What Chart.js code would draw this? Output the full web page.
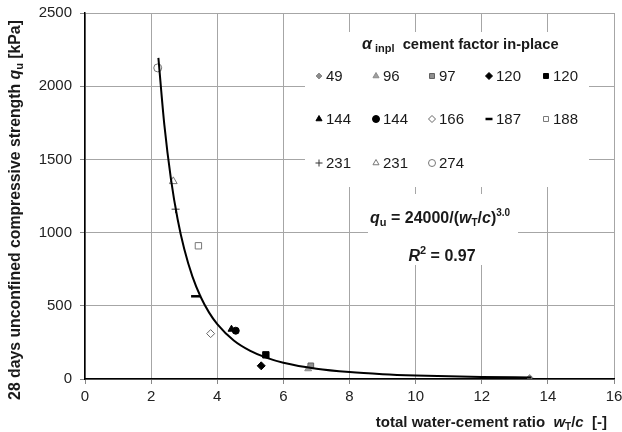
<!DOCTYPE html>
<html>
<head>
<meta charset="utf-8">
<script src="https://cdn.jsdelivr.net/npm/chart.js@4.4.0/dist/chart.umd.min.js"></script>
<style>
  html, body { margin: 0; padding: 0; background: #fff; }
  #wrap { width: 622px; height: 432px; }
</style>
</head>
<body>
<div id="wrap"><canvas id="c" width="622" height="432"></canvas></div>
<script>
// ---- data ----
const seriesLabels = ['49', '96', '97', '120', '120', '144', '144', '166', '187', '188', '231', '231', '274'];
const wcRatio      = [13.45, 6.75, 6.83, 5.33, 5.47, 4.43, 4.56, 3.80, 3.36, 3.43, 2.74, 2.67, 2.20];
const strengthQu   = [10, 70, 90, 90, 165, 340, 330, 310, 565, 910, 1160, 1350, 2125];

// trend line q_u = 24000/(wT/c)^3.0
const trendX = [2.22, 2.4, 2.6, 2.8, 3.0, 3.25, 3.5, 3.75, 4.0, 4.5, 5.0, 5.5, 6.0, 7.0, 8.0, 9.0, 10.0, 11.0, 12.0, 13.5];
const trendY = [2194, 1736, 1366, 1093, 889, 699, 560, 455, 375, 263, 192, 144, 111, 70, 47, 33, 24, 18, 14, 10];

const xTicks = [0, 2, 4, 6, 8, 10, 12, 14, 16];
const yTicks = [0, 500, 1000, 1500, 2000, 2500];

// ---- marker styles (one per series) ----
const markerStyles = [
  { pointStyle: 'rectRot',  radius: 3,   bg: '#8c8c8c', border: '#8c8c8c', bw: 1 },
  { pointStyle: 'triangle', radius: 4,   bg: '#a0a0a0', border: '#8c8c8c', bw: 1 },
  { pointStyle: 'rect',     radius: 4,   bg: '#909090', border: '#606060', bw: 1 },
  { pointStyle: 'rectRot',  radius: 4,   bg: '#000',    border: '#000',    bw: 1 },
  { pointStyle: 'rect',     radius: 4.5, bg: '#000',    border: '#000',    bw: 1 },
  { pointStyle: 'triangle', radius: 4,   bg: '#000',    border: '#000',    bw: 1 },
  { pointStyle: 'circle',   radius: 3.5, bg: '#000',    border: '#000',    bw: 1 },
  { pointStyle: 'rectRot',  radius: 4,   bg: '#fff',    border: '#666',    bw: 1 },
  { pointStyle: 'line',     radius: 5,   bg: '#000',    border: '#000',    bw: 2.5 },
  { pointStyle: 'rect',     radius: 4.5, bg: '#fff',    border: '#777',    bw: 1 },
  { pointStyle: 'cross',    radius: 4,   bg: '#333',    border: '#333',    bw: 1 },
  { pointStyle: 'triangle', radius: 4.5, bg: '#fff',    border: '#777',    bw: 1 },
  { pointStyle: 'circle',   radius: 4,   bg: '#fff',    border: '#777',    bw: 1 }
];

const FONT = '"Liberation Sans", Arial, Helvetica, sans-serif';

const datasets = [{
  type: 'line',
  label: 'trend',
  data: trendX.map((x, i) => ({ x: x, y: trendY[i] })),
  borderColor: '#000',
  borderWidth: 2,
  pointRadius: 0,
  fill: false,
  cubicInterpolationMode: 'monotone',
  order: 0
}];
seriesLabels.forEach((lab, i) => {
  const s = markerStyles[i];
  datasets.push({
    type: 'scatter',
    label: lab,
    data: [{ x: wcRatio[i], y: strengthQu[i] }],
    pointStyle: s.pointStyle,
    pointRadius: s.radius,
    pointBackgroundColor: s.bg,
    pointBorderColor: s.border,
    pointBorderWidth: s.bw,
    order: 1
  });
});

// draw a run of text segments with mixed fonts
function drawRuns(ctx, runs, x, y, align) {
  let total = 0;
  runs.forEach(r => { ctx.font = r.font; r.w = ctx.measureText(r.t).width; total += r.w; });
  let cx = align === 'center' ? x - total / 2 : (align === 'right' ? x - total : x);
  ctx.textAlign = 'left';
  ctx.textBaseline = 'alphabetic';
  runs.forEach(r => {
    ctx.font = r.font;
    ctx.fillText(r.t, cx, y + (r.dy || 0));
    cx += r.w;
  });
}

const overlay = {
  id: 'overlay',
  beforeDatasetsDraw(chart) {
    const ctx = chart.ctx;
    ctx.save();
    ctx.fillStyle = '#fff';
    ctx.fillRect(305, 32, 284, 155);   // legend box
    ctx.fillRect(368, 194, 150, 71);   // equation box
    ctx.restore();
  },
  afterDraw(chart) {
    const ctx = chart.ctx;
    ctx.save();
    ctx.fillStyle = '#1a1a1a';

    // legend title
    drawRuns(ctx, [
      { t: 'α', font: 'italic bold 16px ' + FONT },
      { t: ' inpl', font: 'bold 11px ' + FONT, dy: 3 },
      { t: '  cement factor in-place', font: 'bold 14.7px ' + FONT }
    ], 362, 49, 'left');

    // legend items
    const colX = [319, 376, 432, 489, 546];
    const rowY = [76, 119, 163];
    const H = Chart.helpers;
    seriesLabels.forEach((lab, i) => {
      const s = markerStyles[i];
      const mx = colX[i % 5], my = rowY[Math.floor(i / 5)];
      ctx.save();
      ctx.fillStyle = s.bg;
      ctx.strokeStyle = s.border;
      ctx.lineWidth = s.bw;
      H.drawPoint(ctx, { pointStyle: s.pointStyle, radius: Math.min(s.radius, 3.5), rotation: 0, borderWidth: s.bw }, mx, my);
      ctx.restore();
      ctx.fillStyle = '#1a1a1a';
      ctx.font = '15px ' + FONT;
      ctx.textAlign = 'left';
      ctx.textBaseline = 'middle';
      ctx.fillText(lab, mx + 7, my + 1);
    });

    // equation
    ctx.fillStyle = '#1a1a1a';
    drawRuns(ctx, [
      { t: 'q', font: 'italic bold 16px ' + FONT },
      { t: 'u', font: 'bold 11px ' + FONT, dy: 3 },
      { t: ' = 24000/(', font: 'bold 16px ' + FONT },
      { t: 'w', font: 'italic bold 16px ' + FONT },
      { t: 'T', font: 'bold 10px ' + FONT, dy: 3 },
      { t: '/', font: 'bold 16px ' + FONT },
      { t: 'c', font: 'italic bold 16px ' + FONT },
      { t: ')', font: 'bold 16px ' + FONT },
      { t: '3.0', font: 'bold 10px ' + FONT, dy: -7 }
    ], 370, 223, 'left');
    drawRuns(ctx, [
      { t: 'R', font: 'italic bold 16px ' + FONT },
      { t: '2', font: 'bold 11px ' + FONT, dy: -7 },
      { t: ' = 0.97', font: 'bold 16px ' + FONT }
    ], 442, 261, 'center');

    // x axis title
    drawRuns(ctx, [
      { t: 'total water-cement ratio  ', font: 'bold 15px ' + FONT },
      { t: 'w', font: 'italic bold 15px ' + FONT },
      { t: 'T', font: 'bold 10px ' + FONT, dy: 3 },
      { t: '/', font: 'bold 15px ' + FONT },
      { t: 'c', font: 'italic bold 15px ' + FONT },
      { t: '  [-]', font: 'bold 15px ' + FONT }
    ], 607, 427, 'right');

    // y axis title
    ctx.translate(20, 210);
    ctx.rotate(-Math.PI / 2);
    drawRuns(ctx, [
      { t: '28 days unconfined compressive strength ', font: 'bold 15.8px ' + FONT },
      { t: 'q', font: 'italic bold 15.8px ' + FONT },
      { t: 'u', font: 'bold 11px ' + FONT, dy: 3 },
      { t: ' [kPa]', font: 'bold 15.8px ' + FONT }
    ], 0, 0, 'center');
    ctx.restore();
  }
};

new Chart(document.getElementById('c'), {
  data: { datasets: datasets },
  options: {
    responsive: false,
    animation: false,
    devicePixelRatio: 1,
    layout: { padding: { left: 0, right: 8, top: 13, bottom: 0 } },
    plugins: { legend: { display: false }, tooltip: { enabled: false } },
    scales: {
      x: {
        type: 'linear',
        min: 0, max: 16,
        afterBuildTicks(scale) { scale.ticks = xTicks.map(v => ({ value: v })); },
        afterFit(scale) { scale.height = 53; scale.paddingLeft = 0; scale.paddingRight = 0; },
        ticks: { font: { family: FONT, size: 15 }, color: '#222', padding: 4, maxRotation: 0,
                 callback: v => String(v) },
        grid: { color: '#a6a6a6', lineWidth: 1, tickLength: 5, tickColor: '#888' },
        border: { color: '#000', width: 1.5 },
        title: { display: false }
      },
      y: {
        type: 'linear',
        min: 0, max: 2500,
        afterBuildTicks(scale) { scale.ticks = yTicks.map(v => ({ value: v })); },
        afterFit(scale) { scale.width = 85; scale.paddingTop = 0; scale.paddingBottom = 0; },
        ticks: { font: { family: FONT, size: 15 }, color: '#222', padding: 8,
                 callback: v => String(v) },
        grid: { color: '#a6a6a6', lineWidth: 1, tickLength: 5, tickColor: '#888' },
        border: { color: '#000', width: 1.5 },
        title: { display: false }
      }
    }
  },
  plugins: [overlay]
});
</script>
</body>
</html>
